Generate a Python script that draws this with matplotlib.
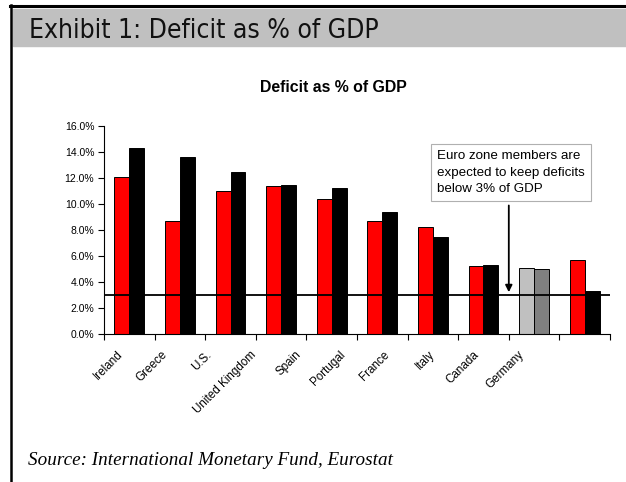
import matplotlib
matplotlib.use('Agg')
import matplotlib.pyplot as plt
from matplotlib import font_manager as fm
from matplotlib.lines import Line2D
from matplotlib.patches import Rectangle

countries = ['Ireland', 'Greece', 'U.S.', 'United Kingdom', 'Spain',
             'Portugal', 'France', 'Italy', 'Canada', 'Germany']
first = [12.1, 8.7, 11.0, 11.4, 10.4, 8.7, 8.2, 5.2, 5.1, 5.7]
second = [14.3, 13.6, 12.5, 11.5, 11.2, 9.4, 7.5, 5.3, 5.0, 3.3]
first_colors = ['#FF0000'] * 8 + ['#C0C0C0', '#FF0000']
second_colors = ['#000000'] * 8 + ['#808080', '#000000']
limit = 3.0
yticks = [0, 2, 4, 6, 8, 10, 12, 14, 16]

# look for a narrow, regular-weight sans font for the header (Arial Narrow look)
narrow = None
for f in fm.fontManager.ttflist:
    is_narrow = 'Narrow' in f.name or 'Condensed' in f.name or f.stretch in ('condensed', 'semi-condensed')
    regular = f.weight in (400, 'normal', 'regular', 'book', 'Book', 'Regular')
    if is_narrow and regular and f.style == 'normal' and 'Mono' not in f.name and 'Serif' not in f.name:
        narrow = f
        break
if narrow is not None:
    head_font = dict(fname=narrow.fname, size=19)
else:
    head_font = dict(family='Liberation Sans', size=18.5)

W, H = 626, 482
fig = plt.figure(figsize=(W / 100, H / 100), dpi=100)

# frame + grey header band
fig.patches.append(Rectangle((13 / W, 1 - 46 / H), 1 - 13 / W, 37 / H,
                             transform=fig.transFigure, color='#C0C0C0', zorder=0))
fig.lines.append(Line2D([10 / W, 1], [1 - 6 / H, 1 - 6 / H], color='black', lw=2.2,
                        transform=fig.transFigure))
fig.lines.append(Line2D([11 / W, 11 / W], [0, 1 - 5 / H], color='black', lw=1.8,
                        transform=fig.transFigure))
fig.text(29 / W, 1 - 38 / H, 'Exhibit 1: Deficit as % of GDP',
         fontproperties=fm.FontProperties(**head_font), va='baseline', color='#111111')
fig.text(28 / W, 1 - 465 / H, 'Source: International Monetary Fund, Eurostat',
         fontsize=13.8, family='Liberation Serif', style='italic', va='baseline')
fig.text(333 / W, 1 - 87 / H, 'Deficit as % of GDP', fontsize=11.4, fontweight='bold',
         family='Liberation Sans', ha='center', va='center')

ax = fig.add_axes([104 / W, 1 - 334 / H, 506 / W, 208 / H])
x = list(range(len(countries)))
bw = 0.296
ax.bar([i - bw / 2 for i in x], first, bw, color=first_colors, edgecolor='black', lw=0.7, zorder=2)
ax.bar([i + bw / 2 for i in x], second, bw, color=second_colors, edgecolor='black', lw=0.7, zorder=2)
ax.axhline(limit, color='black', lw=1.3, zorder=3)

ax.set_xlim(-0.5, len(countries) - 0.5)
ax.set_ylim(0, 16)
ax.set_yticks(yticks)
ax.set_yticklabels(['%.1f%%' % v for v in yticks], family='Liberation Sans', fontsize=7.5)
ax.set_xticks([i - 0.5 for i in range(len(countries) + 1)])
ax.set_xticklabels([])
ax.tick_params(axis='both', length=4, width=0.8, color='black', direction='out')
ax.tick_params(axis='y', pad=3)
for s in ['top', 'right']:
    ax.spines[s].set_visible(False)
for s in ['left', 'bottom']:
    ax.spines[s].set_linewidth(0.8)

# category labels (slightly compressed spacing, as in the original)
for i, c in enumerate(countries):
    ax.text(-0.25 + 0.88 * i, -0.07, c, transform=ax.get_xaxis_transform(),
            rotation=45, ha='right', va='top', rotation_mode='anchor',
            fontsize=8.4, family='Liberation Sans')

ax.annotate('', xy=(7.5, limit), xytext=(7.5, 10.1),
            arrowprops=dict(arrowstyle='-|>', color='black', lw=1.3, mutation_scale=10),
            zorder=4)
ax.text(6.08, 12.4, 'Euro zone members are\nexpected to keep deficits\nbelow 3% of GDP',
        fontsize=9.6, family='Liberation Sans', va='center', ha='left', linespacing=1.5,
        bbox=dict(boxstyle='square,pad=0.45', fc='white', ec='#B0B0B0', lw=0.8), zorder=5)

fig.savefig('out.png', dpi=100)
